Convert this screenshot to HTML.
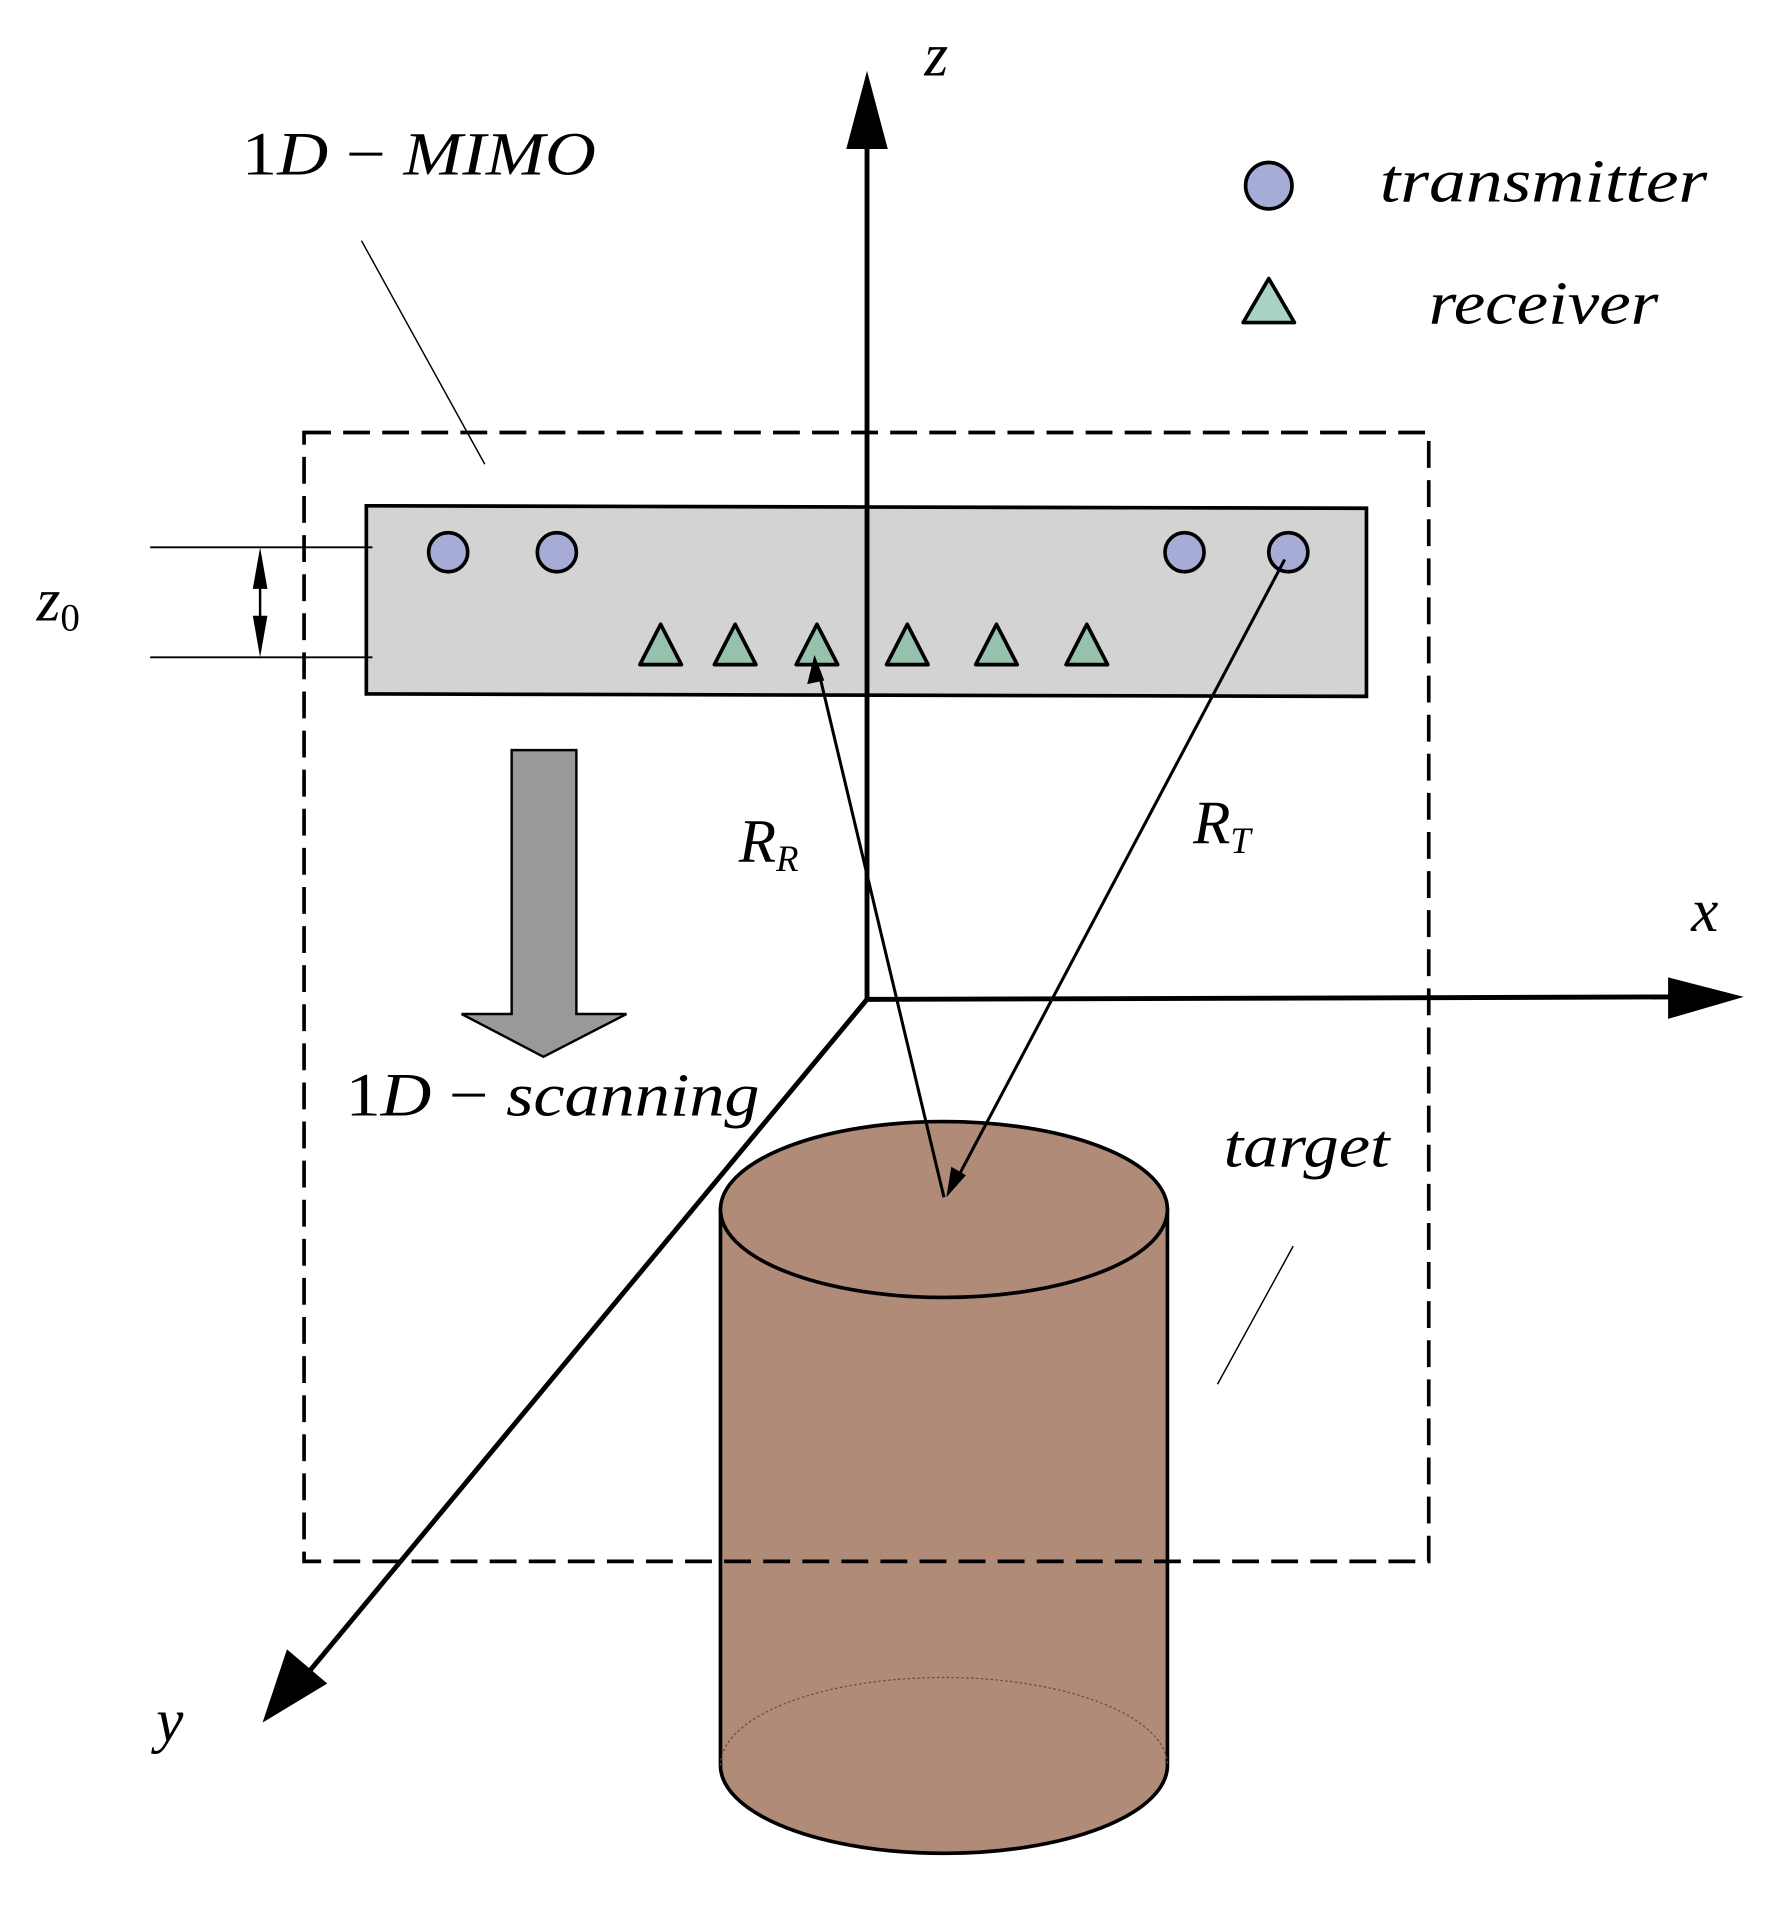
<!DOCTYPE html>
<html><head><meta charset="utf-8"><style>html,body{margin:0;padding:0;background:#fff}svg{display:block}</style></head>
<body>
<svg width="1778" height="1912" viewBox="0 0 1456 1565" preserveAspectRatio="none" xmlns="http://www.w3.org/2000/svg" font-family="'Liberation Serif', serif" font-style="italic">
<!-- cylinder -->
<path d="M590,990 L590,1445 A183,72 0 0 0 956,1445 L956,990 Z" fill="#b08b78" stroke="#000" stroke-width="3"/>
<path d="M590,1445 A183,72 0 0 1 956,1445" fill="none" stroke="#6a4a3a" stroke-width="1" stroke-dasharray="2,2"/>
<ellipse cx="773" cy="990" rx="183" ry="72" fill="#b08b78" stroke="#000" stroke-width="3"/>
<!-- dashed rect -->
<rect x="249" y="354" width="921" height="924" fill="none" stroke="#000" stroke-width="3" stroke-dasharray="22,10"/>
<!-- bar -->
<polygon points="300,414 1119,416 1119,570 300,568" fill="#d3d3d3" stroke="#000" stroke-width="3"/>
<!-- axes -->
<line x1="710" y1="818" x2="710" y2="118" stroke="#000" stroke-width="4"/>
<polygon points="710,58 693,122 727,122" fill="#000"/>
<line x1="710" y1="818" x2="1370" y2="816" stroke="#000" stroke-width="4"/>
<polygon points="1428,816 1366,800 1366,834" fill="#000"/>
<line x1="710" y1="818" x2="250" y2="1372" stroke="#000" stroke-width="4"/>
<polygon points="215,1410 235,1350 268,1378" fill="#000"/>
<!-- transmitters -->
<g fill="#a7acd6" stroke="#000" stroke-width="3">
<circle cx="367" cy="452" r="16"/><circle cx="456" cy="452" r="16"/><circle cx="970" cy="452" r="16"/><circle cx="1055" cy="452" r="16"/>
<circle cx="1039" cy="152" r="19"/>
</g>
<g fill="#96c2ad" stroke="#000" stroke-width="3" stroke-linejoin="round">
<polygon points="541,511 524,544 558,544"/><polygon points="602,511 585,544 619,544"/><polygon points="669,511 652,544 686,544"/>
<polygon points="743,511 726,544 760,544"/><polygon points="816,511 799,544 833,544"/><polygon points="890,511 873,544 907,544"/>
<polygon points="1039,228 1018,264 1060,264" fill="#a8d3c2"/>
</g>
<!-- z0 -->
<line x1="123" y1="448" x2="305" y2="448" stroke="#000" stroke-width="1.5"/>
<line x1="123" y1="538" x2="305" y2="538" stroke="#000" stroke-width="1.5"/>
<line x1="213" y1="455" x2="213" y2="531" stroke="#000" stroke-width="2"/>
<polygon points="213,448 207,482 219,482" fill="#000"/><polygon points="213,538 207,504 219,504" fill="#000"/>
<!-- leader lines -->
<line x1="296" y1="197" x2="397" y2="380" stroke="#000" stroke-width="1.2"/>
<line x1="1059" y1="1020" x2="997" y2="1133" stroke="#000" stroke-width="1.2"/>
<!-- scanning arrow -->
<polygon points="419,614 472,614 472,830 513,830 445,865 378,830 419,830" fill="#999" stroke="#000" stroke-width="2"/>
<!-- ray lines -->
<line x1="773" y1="980" x2="670" y2="548" stroke="#000" stroke-width="2.5"/>
<polygon points="667,536 661,560 675,557" fill="#000"/>
<line x1="1052" y1="458" x2="781" y2="970" stroke="#000" stroke-width="2.5"/>
<polygon points="775,980 779,955 791,962" fill="#000"/>
<!-- labels -->
<g font-size="50" fill="#000">
<text x="198" y="143" font-style="normal" textLength="290" lengthAdjust="spacingAndGlyphs">1<tspan font-style="italic">D</tspan> − <tspan font-style="italic">MIMO</tspan></text>
<text x="283" y="913" font-style="normal" textLength="339" lengthAdjust="spacingAndGlyphs">1<tspan font-style="italic">D</tspan> − <tspan font-style="italic">scanning</tspan></text>
<text x="1130" y="165" textLength="268" lengthAdjust="spacingAndGlyphs">transmitter</text>
<text x="1170" y="265" textLength="188" lengthAdjust="spacingAndGlyphs">receiver</text>
<text x="1002" y="955" textLength="136" lengthAdjust="spacingAndGlyphs">target</text>
<text x="757" y="62">z</text>
<text x="1385" y="762">x</text>
<text x="128" y="1425">y</text>
<text x="605" y="705">R<tspan font-size="30" dy="8">R</tspan></text>
<text x="977" y="690">R<tspan font-size="30" dy="8">T</tspan></text>
<text x="30" y="508">z<tspan font-size="32" font-style="normal" dy="8">0</tspan></text>
</g>
</svg>
</body></html>
